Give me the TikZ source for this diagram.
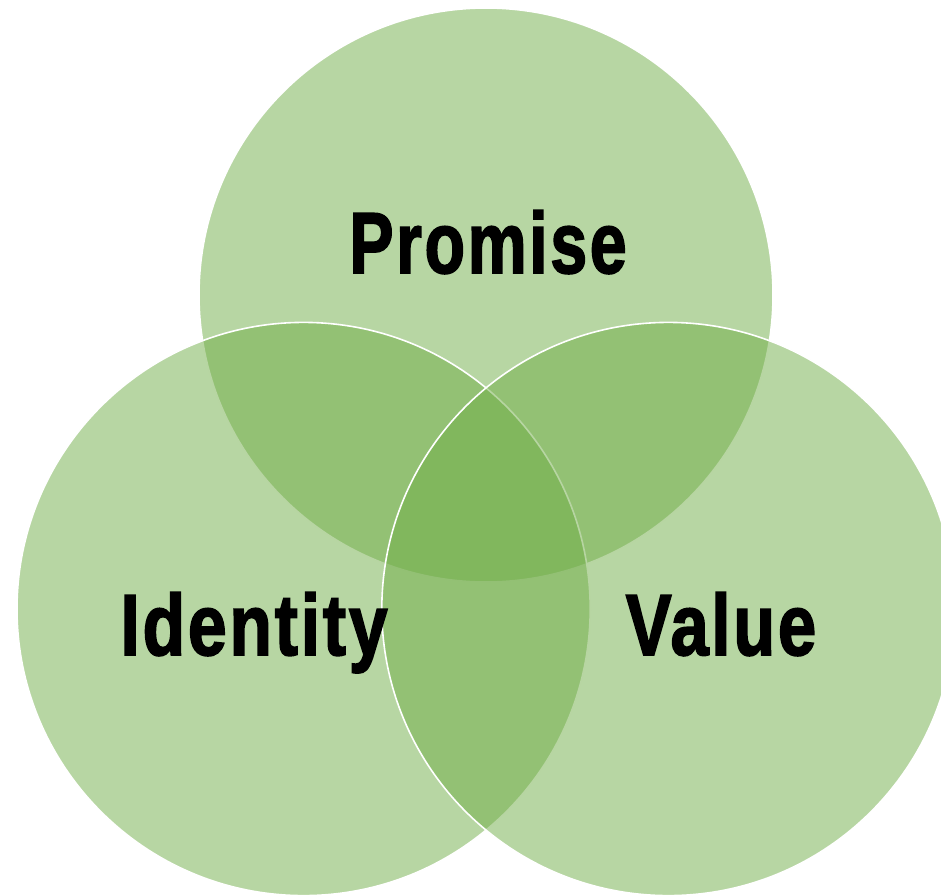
\documentclass[tikz,border=0pt]{standalone}
\usepackage{fontspec}
\setmainfont{Liberation Sans}
\newfontfamily\heavyfont[BoldFeatures={FakeBold=2.2,LetterSpace=4}]{Liberation Sans}
\definecolor{vgreen}{RGB}{112,173,71}
\begin{document}
\begin{tikzpicture}[x=1pt,y=-1pt,
  venn/.style={fill=vgreen,fill opacity=0.5,draw=white,draw opacity=1,line width=1.6pt},
  lbl/.style={anchor=base,inner sep=0pt,text=black,font=\heavyfont\bfseries\fontsize{86.6}{90}\selectfont}]
\useasboundingbox (0,0) rectangle (941,894);
\begin{scope}
\clip (0,0) rectangle (941,894);
\path[venn] (486,295) circle[radius=287pt];
\path[venn] (303.6,609) circle[radius=286.6pt];
\path[venn] (668.4,609) circle[radius=286.6pt];
\end{scope}
\node[lbl] (promise) at (488,273) {\scalebox{0.765}[1]{Promise}};
\node[lbl] (identity) at (254,655) {\scalebox{0.804}[1]{Identity}};
\node[lbl] (value) at (721,655) {\scalebox{0.793}[1]{Value}};
\end{tikzpicture}
\end{document}
